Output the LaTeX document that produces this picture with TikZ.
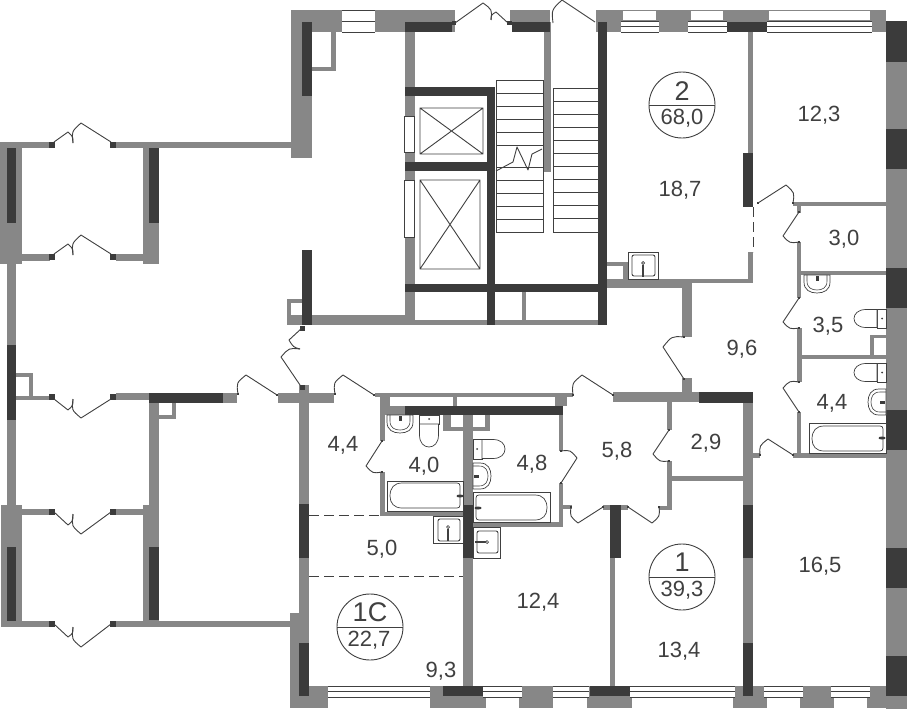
\documentclass[tikz,border=0pt]{standalone}
\usepackage{fontspec}
\setmainfont{Liberation Sans}
\usetikzlibrary{calc}
\definecolor{wallgray}{HTML}{878787}
\definecolor{walldark}{HTML}{3B3B3B}
\definecolor{inkgray}{HTML}{404040}
\tikzset{
  thinline/.style={draw=inkgray,line width=0.9pt},
  fixline/.style={draw=inkgray,line width=0.7pt,fill=white},
  doorline/.style={draw=inkgray,line width=0.9pt,line join=round},
  dashwall/.style={draw=inkgray,line width=0.9pt,dash pattern=on 10pt off 5pt},
  roomtext/.style={text=inkgray,inner sep=0pt,font=\fontsize{22}{22}\selectfont,text height=15pt,text depth=0pt},
  typetext/.style={text=inkgray,inner sep=0pt,font=\fontsize{27}{27}\selectfont,text height=19pt,text depth=0pt},
  badge/.style={draw=inkgray,line width=0.9pt,fill=white}
}
\newcommand\gw[4]{\fill[wallgray] (#1,#2) rectangle (#3,#4);}
\newcommand\dw[4]{\fill[walldark] (#1,#2) rectangle (#3,#4);}
\newcommand\wu[4]{\fill[white] (#1,#2) rectangle (#3,#4);}
\newcommand\wl[4]{\fill[white] (#1,#2) rectangle (#3,#4);
  \draw[thinline,line width=0.8pt] (#1,#2) -- (#3,#2) (#1,#4) -- (#3,#4) (#1,{(#2+#4)/2}) -- (#3,{(#2+#4)/2});}
\newcommand\hd[3]{\fill[walldark] ({#1-#3/2},{#2-#3/2}) rectangle ({#1+#3/2},{#2+#3/2});}
% door: hinge x,y ; apex x,y ; end x,y
\newcommand\door[6]{%
  \pgfmathsetmacro\mx{(#3+#5)/2}\pgfmathsetmacro\my{(#4+#6)/2}%
  \pgfmathsetmacro\cx{\mx+0.16*(\mx-#1)}\pgfmathsetmacro\cy{\my+0.16*(\my-#2)}%
  \draw[doorline] (#1,#2) -- (#3,#4) .. controls (\cx,\cy) and (\cx,\cy) .. (#5,#6);}
\newcommand\sinkfix[3]{\begin{scope}[shift={(#1,#2)},rotate=#3]
  \draw[fixline] (0,0) -- (26,0) -- (26,7) .. controls (26,15) and (20,18) .. (13,18) .. controls (6,18) and (0,15) .. (0,7) -- cycle;
  \draw[thinline,line width=0.6pt] (3,0) -- (3,6) .. controls (3,13) and (8,15) .. (13,15) .. controls (18,15) and (23,13) .. (23,6) -- (23,0);
  \fill[walldark] (11.5,1) rectangle (14.5,6);
  \end{scope}}
\newcommand\toiletfix[4]{\begin{scope}[shift={(#1,#2)},rotate=#3]
  \draw[fixline] (0,0) rectangle (#4,9);
  \draw[fixline] (0.5,9) -- (0.5,20) .. controls (0.5,28) and (5,32) .. ({#4/2},32) .. controls ({#4-5},32) and ({#4-0.5},28) .. ({#4-0.5},20) -- ({#4-0.5},9) -- cycle;
  \fill[walldark] ({#4/2},4) circle (1pt);
  \end{scope}}
\begin{document}
\begin{tikzpicture}[x=1pt,y=-1pt]
\useasboundingbox (0,0) rectangle (907,709);
\fill[white] (0,0) rectangle (907,709);
% ---- top band and stairwell walls
\gw{291}{10}{455}{32}
\gw{291}{10}{312}{158}
\gw{331}{32}{336}{71}
\gw{312}{67}{336}{71}
\gw{510}{10}{550}{22}
\gw{544}{22}{551}{172}
\gw{405}{32}{415}{325}
\gw{596}{10}{886}{32}
\gw{287}{299}{291}{325}
\gw{287}{299}{302}{303}
\gw{291}{315}{415}{325}
\gw{415}{320}{607}{325}
\gw{522}{292}{526}{322}
% ---- apartment 2 walls
\gw{748}{32}{753}{153}
\gw{748}{252}{753}{283}
\gw{607}{279}{753}{283}
\gw{607}{279}{692}{288}
\gw{682}{283}{692}{337}
\gw{607}{262}{627}{266}
\gw{623}{262}{628}{279}
\gw{793}{202}{886}{206}
\gw{797}{206}{801}{213}
\gw{797}{242}{801}{298}
\gw{801}{271}{886}{275}
\gw{797}{328}{802}{382}
\gw{802}{355}{886}{359}
\gw{870}{335}{886}{338}
\gw{870}{335}{874}{355}
\gw{797}{412}{801}{458}
\gw{793}{453}{886}{458}
\gw{753}{453}{760}{458}
% ---- right outer wall
\gw{886}{21}{907}{709}
% ---- bottom band
\gw{290}{686}{907}{708}
\gw{290}{613}{309}{708}
% ---- left block
\gw{0}{142}{22}{264}
\gw{22}{142}{50}{148}
\gw{116}{142}{292}{148}
\gw{143}{148}{159}{264}
\gw{22}{254}{50}{261}
\gw{116}{254}{143}{261}
\gw{7}{264}{16}{505}
\gw{16}{373}{33}{377}
\gw{29}{373}{33}{400}
\gw{16}{396}{50}{400}
\gw{116}{393}{149}{400}
\gw{223}{393}{237}{403}
\gw{1}{505}{22}{627}
\gw{22}{509}{50}{515}
\gw{116}{509}{143}{515}
\gw{143}{505}{149}{627}
\gw{149}{403}{159}{627}
\gw{172}{403}{176}{419}
\gw{159}{415}{176}{419}
\gw{22}{621}{50}{627}
\gw{116}{621}{292}{627}
\gw{278}{393}{334}{403}
\gw{299}{385}{309}{613}
% ---- central block, 1C and 1
\gw{375}{393}{573}{397}
\gw{380}{397}{390}{406}
\gw{380}{406}{405}{415}
\gw{453}{397}{457}{406}
\gw{555}{393}{567}{406}
\gw{380}{415}{385}{441}
\gw{380}{472}{385}{516}
\gw{380}{512}{463}{516}
\gw{463}{415}{473}{686}
\gw{443}{415}{451}{431}
\gw{451}{427}{463}{431}
\gw{473}{427}{490}{431}
\gw{485}{415}{490}{431}
\gw{559}{415}{563}{451}
\gw{559}{483}{563}{527}
\gw{473}{522}{563}{527}
\gw{563}{505}{572}{509}
\gw{603}{505}{628}{510}
\gw{610}{558}{615}{686}
\gw{613}{392}{699}{402}
\gw{682}{378}{692}{392}
\gw{667}{402}{672}{430}
\gw{667}{461}{672}{510}
\gw{672}{476}{743}{481}
\gw{659}{506}{672}{510}
\gw{743}{403}{753}{696}
% ---- dark walls
\dw{405}{22}{452}{32}
\dw{452}{21}{456}{25}
\dw{302}{22}{312}{96}
\dw{507}{21}{512}{25}
\dw{512}{22}{550}{32}
\dw{405}{87}{495}{96}
\dw{405}{162}{488}{171}
\dw{487}{87}{495}{325}
\dw{405}{284}{607}{292}
\dw{598}{22}{607}{325}
\dw{302}{250}{312}{325}
\dw{743}{153}{753}{207}
\dw{727}{22}{767}{32}
\dw{886}{21}{907}{62}
\dw{886}{129}{907}{169}
\dw{886}{268}{907}{308}
\dw{886}{410}{907}{450}
\dw{886}{548}{907}{588}
\dw{886}{656}{907}{696}
\dw{7}{148}{16}{223}
\dw{149}{148}{159}{223}
\dw{7}{345}{16}{420}
\dw{7}{547}{16}{621}
\dw{149}{393}{223}{403}
\dw{149}{547}{159}{620}
\dw{299}{504}{309}{558}
\dw{299}{643}{309}{696}
\dw{405}{406}{563}{415}
\dw{463}{505}{473}{558}
\dw{610}{505}{621}{558}
\dw{699}{392}{753}{403}
\dw{743}{505}{753}{558}
\dw{743}{643}{753}{696}
\dw{443}{686}{483}{696}
\dw{590}{686}{630}{696}
% ---- windows
\wl{342}{10}{375}{32}
\wu{623}{11}{656}{20}\wl{621}{21}{659}{32}
\wu{691}{11}{723}{20}\wl{688}{21}{727}{32}
\wu{769}{11}{870}{20}\wl{767}{21}{872}{32}
\wl{328}{686}{430}{697}\wu{328}{698}{430}{708}
\wl{483}{686}{522}{697}\wu{486}{698}{519}{708}
\wl{553}{686}{589}{697}\wu{553}{698}{587}{708}
\wl{630}{686}{735}{697}\wu{632}{698}{733}{708}
\wl{764}{686}{803}{697}\wu{767}{698}{800}{708}
\wl{831}{686}{870}{697}\wu{834}{698}{867}{708}
% ---- lift shafts and wall niches
\draw[thinline,fill=white] (404,116) rectangle (414,152);
\draw[thinline,fill=white] (404,180) rectangle (414,237);
\draw[thinline] (420,108) rectangle (483,154) (420,108) -- (483,154) (420,154) -- (483,108);
\draw[thinline] (420,180) rectangle (480,269) (420,180) -- (480,269) (420,269) -- (480,180);
% ---- stairs
\draw[thinline,fill=white] (496,80) rectangle (543,232);
\foreach \sy in {93,106,119,132,145,167,180,193,206,219} {\draw[thinline] (496,\sy) -- (543,\sy);}
\draw[thinline,fill=white] (553,88) rectangle (598,232);
\foreach \i in {1,...,10} {\draw[thinline] (553,{88+\i*144/11}) -- (598,{88+\i*144/11});}
\draw[doorline] (496,171) -- (513,162) -- (517,147) -- (528,170) -- (532,154) -- (542,149);
% ---- fixtures
\draw[fixline] (387,481) rectangle (463,511);
\draw[fixline] (402,483) -- (457,483) .. controls (459,483) and (460,484) .. (460,486) -- (460,505) .. controls (460,507) and (459,508) .. (457,508) -- (402,508) .. controls (394,508) and (390,503) .. (390,496) .. controls (390,488) and (394,483) .. (402,483) -- cycle;
\fill[walldark] (460,496) ellipse (3.5 and 1.5);
\draw[fixline] (473,492) rectangle (550,522);
\draw[fixline] (535,495) -- (479,495) .. controls (477,495) and (476,496) .. (476,498) -- (476,517) .. controls (476,519) and (477,520) .. (479,520) -- (535,520) .. controls (543,520) and (547,515) .. (547,508) .. controls (547,500) and (543,495) .. (535,495) -- cycle;
\fill[walldark] (478,508) ellipse (3.5 and 1.5);
\draw[fixline] (809,423) rectangle (886,453);
\draw[fixline] (824,426) -- (880,426) .. controls (882,426) and (883,427) .. (883,429) -- (883,448) .. controls (883,450) and (882,451) .. (880,451) -- (824,451) .. controls (816,451) and (812,446) .. (812,439) .. controls (812,431) and (816,426) .. (824,426) -- cycle;
\fill[walldark] (882,438) ellipse (3.5 and 1.5);
\sinkfix{387}{415}{0}
\sinkfix{804}{275}{0}
\sinkfix{886}{389}{-90}
\sinkfix{473}{489}{90}
\toiletfix{419}{415}{0}{20}
\toiletfix{473}{459}{90}{20}
\toiletfix{886}{309}{-90}{19}
\toiletfix{886}{363}{-90}{19}
% ---- counter sinks
\draw[fixline,line width=0.9pt] (628,252) rectangle (658,279);
\draw[thinline,rounded corners=2pt] (632,255) rectangle (655,276);
\draw[thinline,line width=1.4pt] (643,265) -- (643,277);
\draw[fixline] (643,263) circle (1.5);
\draw[fixline,line width=0.9pt] (433,516) rectangle (463,543);
\draw[thinline,rounded corners=2pt] (438,519) rectangle (460,541);
\draw[thinline,line width=1.4pt] (448,529) -- (448,541);
\draw[fixline] (448,527) circle (1.5);
\draw[fixline,line width=0.9pt] (473,527) rectangle (500,558);
\draw[thinline,rounded corners=2pt] (477,531) rectangle (498,553);
\draw[thinline,line width=1.4pt] (475,542) -- (486,542);
\draw[fixline] (487,542) circle (1.5);
% ---- dashed partitions
\draw[dashwall] (753,207) -- (753,252);
\draw[dashwall] (309,515) -- (380,515);
\draw[dashwall] (309,576) -- (463,576);
% ---- hinges
\hd{454}{23}{4}\hd{509}{23}{4}
\hd{52}{145}{6}\hd{113}{145}{6}
\hd{52}{257}{6}\hd{113}{257}{6}
\hd{52}{397}{6}\hd{113}{397}{6}
\hd{52}{512}{6}\hd{113}{512}{6}
\hd{52}{624}{6}\hd{113}{624}{6}
\hd{302}{328}{5}\hd{302}{387}{5}
\hd{238}{394}{2}\hd{277}{395}{2}\hd{335}{394}{2}\hd{374}{395}{2}
\hd{382}{441}{2.5}\hd{382}{472}{2.5}
\hd{561}{451}{2.5}\hd{561}{483}{2.5}
\hd{573}{395}{2.5}\hd{613}{395}{2.5}\hd{571}{507}{2.5}\hd{603}{507}{2.5}
\hd{628}{507}{2.5}\hd{659}{507}{2.5}
\hd{669}{430}{2.5}\hd{669}{461}{2.5}
\hd{684}{337}{2.5}\hd{684}{379}{2.5}
\hd{758}{203}{2.5}\hd{793}{203}{2.5}
\hd{799}{212}{2.5}\hd{799}{242}{2.5}
\hd{799}{298}{2.5}\hd{799}{328}{2.5}
\hd{799}{382}{2.5}\hd{799}{412}{2.5}
\hd{760}{455}{2.5}\hd{793}{455}{2.5}
% ---- doors
\door{455}{23}{483}{3}{491}{20}
\door{508}{23}{496}{12}{491}{20}
\door{595}{22}{562}{0}{553}{23}
\door{54}{142}{68}{132}{73}{143}
\door{111}{142}{81}{123}{73}{143}
\door{54}{254}{68}{244}{73}{255}
\door{111}{254}{81}{235}{73}{255}
\door{54}{399}{68}{410}{73}{399}
\door{111}{399}{81}{418}{73}{399}
\door{54}{512}{68}{525}{73}{514}
\door{111}{512}{81}{534}{73}{514}
\door{54}{624}{68}{637}{73}{627}
\door{111}{624}{81}{647}{73}{627}
\door{302}{328}{289}{340}{300}{349}
\door{300}{385}{281}{357}{300}{349}
\door{277}{395}{246}{375}{238}{394}
\door{374}{395}{343}{375}{335}{394}
\door{382}{441}{366}{466}{382}{472}
\door{561}{483}{577}{458}{561}{451}
\door{603}{507}{578}{523}{571}{507}
\door{613}{395}{582}{375}{573}{395}
\door{628}{507}{652}{523}{659}{507}
\door{669}{430}{653}{454}{669}{461}
\door{684}{379}{663}{347}{684}{337}
\door{758}{203}{786}{185}{793}{203}
\door{799}{212}{783}{236}{799}{242}
\door{799}{298}{783}{322}{799}{328}
\door{799}{412}{783}{388}{799}{382}
\door{793}{455}{768}{439}{760}{455}
% ---- badges
\draw[badge] (682,105) circle (33);
\draw[badge,fill=none] (649,105) -- (715,105);
\draw[badge] (682,577) circle (33);
\draw[badge,fill=none] (649,577) -- (715,577);
\draw[badge] (370,627) circle (33);
\draw[badge,fill=none] (337,627) -- (403,627);
\node[typetext] (t2) at (682,91) {2};
\node[roomtext] (a2) at (682,117) {68,0};
\node[typetext] (t1) at (682,562) {1};
\node[roomtext] (a1) at (682,589) {39,3};
\node[typetext] (t1c) at (370,612) {1C};
\node[roomtext] (a1c) at (369,639) {22,7};
% ---- room areas
\node[roomtext] (r01) at (680,189) {18,7};
\node[roomtext] (r02) at (819,114) {12,3};
\node[roomtext] (r03) at (844,238) {3,0};
\node[roomtext] (r04) at (828,325) {3,5};
\node[roomtext] (r05) at (742,348) {9,6};
\node[roomtext] (r06) at (832,402) {4,4};
\node[roomtext] (r07) at (617,450) {5,8};
\node[roomtext] (r08) at (706,442) {2,9};
\node[roomtext] (r09) at (820,565) {16,5};
\node[roomtext] (r10) at (679,650) {13,4};
\node[roomtext] (r11) at (343,444) {4,4};
\node[roomtext] (r12) at (424,465) {4,0};
\node[roomtext] (r13) at (532,463) {4,8};
\node[roomtext] (r14) at (382,548) {5,0};
\node[roomtext] (r15) at (538,601) {12,4};
\node[roomtext] (r16) at (441,670) {9,3};
\end{tikzpicture}
\end{document}
